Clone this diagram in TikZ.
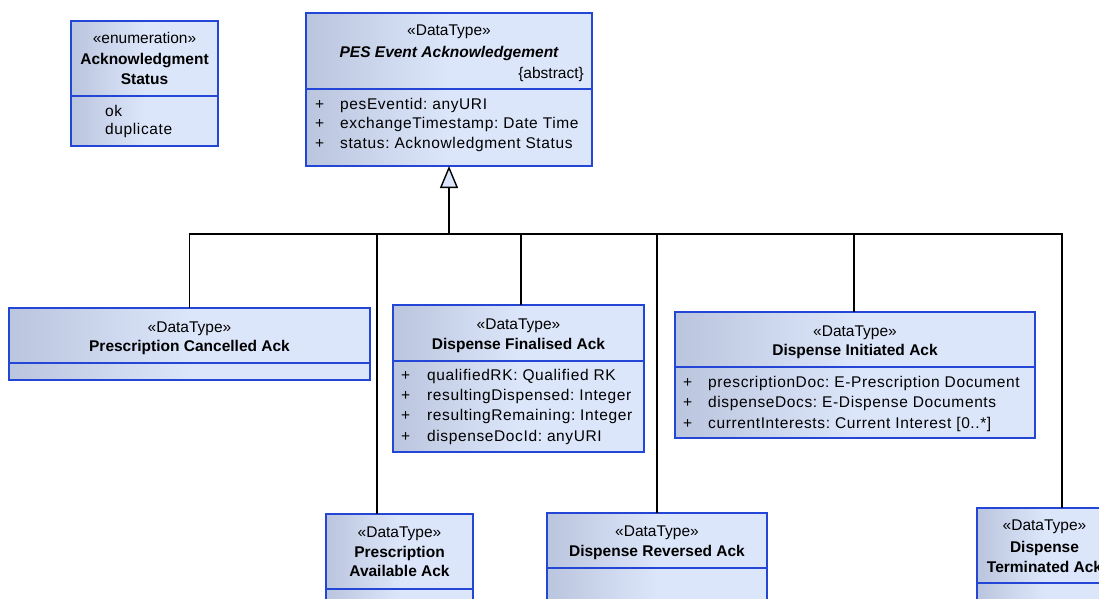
\documentclass[tikz,border=0pt]{standalone}
\usepackage{fontspec}
\setmainfont{Liberation Sans}
\newfontfamily\attrfont[LetterSpace=4]{Liberation Sans}
\usetikzlibrary{arrows.meta}
\definecolor{boxdark}{RGB}{186,197,222}
\definecolor{boxlight}{RGB}{220,230,250}
\definecolor{umlborder}{RGB}{35,70,215}
\begin{document}
\begin{tikzpicture}[x=1pt,y=-1pt,
  umlbox/.style={draw=umlborder, line width=1.4pt, left color=boxdark, right color=boxlight, middle color=boxlight, anchor=north west, inner sep=0pt, outer sep=0pt},
  divider/.style={draw=umlborder, line width=1.2pt},
  txt/.style={anchor=base, inner sep=0pt, font=\fontsize{15.5}{20}\selectfont},
  bold/.style={txt, font=\fontsize{15.5}{20}\selectfont\bfseries},
  attr/.style={anchor=base west, inner sep=0pt, font=\fontsize{15.5}{20}\selectfont\attrfont},
  conn/.style={draw=black, line width=1.4pt}]
\useasboundingbox (0,0) rectangle (1099,598);
\fill[white] (0,0) rectangle (1099,598);
\clip (0,0) rectangle (1099,598);

% ---------- boxes ----------
\node[umlbox, minimum width=147pt, minimum height=125pt] (ack) at (71,21) {};
\draw[divider] (ack.west |- 0,96) -- (ack.east |- 0,96);
\node[txt] (ackst) at (144.5,43) {«enumeration»};
\node[bold] (ackn1) at (144.5,64) {Acknowledgment};
\node[bold] (ackn2) at (144.5,84) {Status};
\node[attr] (acko) at (105,116) {ok};
\node[attr] (ackd) at (105,134) {duplicate};

\node[umlbox, minimum width=286pt, minimum height=153pt] (pes) at (306,13) {};
\draw[divider] (pes.west |- 0,89) -- (pes.east |- 0,89);
\node[txt] (pesst) at (449,35) {«DataType»};
\node[txt, font=\fontsize{15.5}{20}\selectfont\bfseries\itshape] (pesn) at (449,57) {PES Event Acknowledgement};
\node[txt, anchor=base east] (pesab) at (584,78) {\{abstract\}};
\node[attr] (pesp1) at (315,109) {+};
\node[attr] (pesa1) at (340,109) {pesEventid:\ anyURI};
\node[attr] (pesp2) at (315,128.5) {+};
\node[attr] (pesa2) at (340,128.5) {exchangeTimestamp:\ Date Time};
\node[attr] (pesp3) at (315,148) {+};
\node[attr] (pesa3) at (340,148) {status:\ Acknowledgment Status};

\node[umlbox, minimum width=361pt, minimum height=72pt] (pc) at (9,308) {};
\draw[divider] (pc.west |- 0,363) -- (pc.east |- 0,363);
\node[txt] (pcst) at (189.5,332) {«DataType»};
\node[bold] (pcn) at (189.5,351) {Prescription Cancelled Ack};

\node[umlbox, minimum width=251pt, minimum height=147pt] (df) at (393,305) {};
\draw[divider] (df.west |- 0,361) -- (df.east |- 0,361);
\node[txt] (dfst) at (518.5,329) {«DataType»};
\node[bold] (dfn) at (518.5,349) {Dispense Finalised Ack};
\node[attr] (dfp1) at (401,380) {+};
\node[attr] (dfa1) at (427,380) {qualifiedRK:\ Qualified RK};
\node[attr] (dfp2) at (401,400.3) {+};
\node[attr] (dfa2) at (427,400.3) {resultingDispensed:\ Integer};
\node[attr] (dfp3) at (401,420.6) {+};
\node[attr] (dfa3) at (427,420.6) {resultingRemaining:\ Integer};
\node[attr] (dfp4) at (401,441) {+};
\node[attr] (dfa4) at (427,441) {dispenseDocId:\ anyURI};

\node[umlbox, minimum width=360pt, minimum height=126pt] (di) at (675,312) {};
\draw[divider] (di.west |- 0,367) -- (di.east |- 0,367);
\node[txt] (dist) at (855,336) {«DataType»};
\node[bold] (din) at (855,355) {Dispense Initiated Ack};
\node[attr] (dip1) at (683,387) {+};
\node[attr] (dia1) at (708,387) {prescriptionDoc:\ E-Prescription Document};
\node[attr] (dip2) at (683,407.5) {+};
\node[attr] (dia2) at (708,407.5) {dispenseDocs:\ E-Dispense Documents};
\node[attr] (dip3) at (683,428) {+};
\node[attr] (dia3) at (708,428) {currentInterests:\ Current Interest [0..*]};

\node[umlbox, minimum width=147pt, minimum height=100pt] (pa) at (326,514) {};
\draw[divider] (pa.west |- 0,589) -- (pa.east |- 0,589);
\node[txt] (past) at (399.5,537) {«DataType»};
\node[bold] (pan1) at (399.5,557) {Prescription};
\node[bold] (pan2) at (399.5,576) {Available Ack};

\node[umlbox, minimum width=220pt, minimum height=100pt] (dr) at (547,513) {};
\draw[divider] (dr.west |- 0,568) -- (dr.east |- 0,568);
\node[txt] (drst) at (657,536) {«DataType»};
\node[bold] (drn) at (657,556) {Dispense Reversed Ack};

\node[umlbox, minimum width=135pt, minimum height=100pt] (dt) at (977,508) {};
\draw[divider] (dt.west |- 0,583) -- (dt.east |- 0,583);
\node[txt] (dtst) at (1044.5,530) {«DataType»};
\node[bold] (dtn1) at (1044.5,552) {Dispense};
\node[bold] (dtn2) at (1044.5,572) {Terminated Ack};

% ---------- generalisation connectors ----------
\coordinate (bus) at (449,234);
\draw[conn] (pc.north) |- (bus);
\draw[conn] ([xshift=-22.5pt]pa.north) |- (bus);
\draw[conn] ([xshift=2.5pt]df.north) |- (bus);
\draw[conn] (dr.north) |- (bus);
\draw[conn] ([xshift=-1pt]di.north) |- (bus);
\draw[conn] ([xshift=17.5pt]dt.north) |- (bus);
\draw[conn, -{Triangle[length=22pt, width=18pt, fill=boxlight]}] (bus) -- (pes.south);
\end{tikzpicture}
\end{document}
